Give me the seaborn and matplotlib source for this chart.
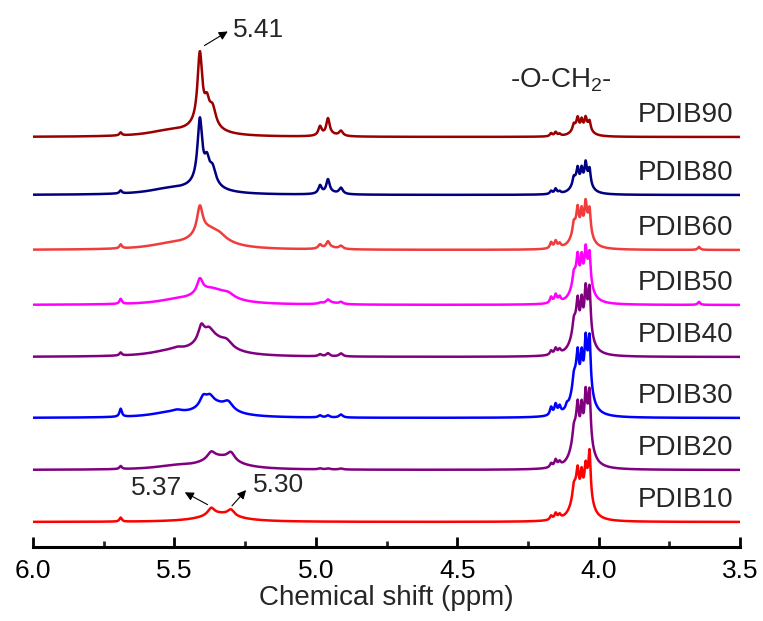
import numpy as np
import pandas as pd
import matplotlib
matplotlib.use("Agg")
import matplotlib.pyplot as plt
import matplotlib.ticker as mtick
import seaborn as sns

# ─── DATA ─────────────────────────────────────────────────────────────────────
# each spectrum = list of peaks (shift in ppm, height, half width in ppm)
samples = ["PDIB90", "PDIB80", "PDIB60", "PDIB50", "PDIB40", "PDIB30", "PDIB20", "PDIB10"]
baselines = [410, 352, 297, 242, 190, 129, 77, 25]

PDIB90 = [(5.690, 3, 0.005), (5.520, 5, 0.090),
          (5.410, 70, 0.010), (5.385, 18, 0.010), (5.365, 18, 0.014), (5.400, 10, 0.060),
          (4.985, 9, 0.007), (4.957, 16, 0.007), (4.911, 5, 0.008), (4.950, 2, 0.030),
          (4.168, 3, 0.005), (4.152, 4, 0.005), (4.138, 2, 0.005),
          (4.080, 8, 0.018), (4.040, 8, 0.018),
          (4.088, 5, 0.0045), (4.074, 10, 0.0045), (4.060, 10, 0.0045), (4.046, 10, 0.0045), (4.032, 8, 0.0045)]

PDIB80 = [(5.690, 3, 0.005), (5.520, 5, 0.090),
          (5.410, 62, 0.010), (5.385, 18, 0.010), (5.365, 16, 0.014), (5.400, 10, 0.060),
          (4.985, 8, 0.007), (4.957, 13, 0.007), (4.911, 6, 0.008), (4.950, 2, 0.030),
          (4.168, 3, 0.005), (4.152, 5, 0.005), (4.138, 2, 0.005),
          (4.080, 12, 0.018), (4.040, 12, 0.018),
          (4.088, 6, 0.0045), (4.074, 13, 0.0045), (4.060, 15, 0.0045), (4.046, 18, 0.0045), (4.032, 14, 0.0045)]

PDIB60 = [(5.690, 4, 0.005), (5.520, 4, 0.090),
          (5.410, 27, 0.012), (5.380, 19, 0.065), (5.340, 3, 0.025),
          (4.985, 4, 0.007), (4.957, 6, 0.007), (4.911, 3, 0.008), (4.950, 2, 0.030),
          (4.168, 6, 0.005), (4.152, 7, 0.005), (4.138, 4, 0.005),
          (4.080, 20, 0.018), (4.040, 20, 0.018),
          (4.088, 8, 0.0045), (4.074, 19, 0.0045), (4.060, 21, 0.0045), (4.046, 24, 0.0045), (4.032, 21, 0.0045),
          (3.645, 3, 0.005)]

PDIB50 = [(5.690, 5, 0.005), (5.500, 3, 0.080),
          (5.410, 14, 0.012), (5.370, 15, 0.070), (5.310, 4, 0.025),
          (4.985, 1, 0.007), (4.957, 3, 0.007), (4.911, 2, 0.008), (4.950, 2, 0.030),
          (4.168, 6, 0.005), (4.152, 8, 0.005), (4.138, 5, 0.005),
          (4.080, 25, 0.018), (4.040, 25, 0.018),
          (4.088, 8, 0.0045), (4.074, 21, 0.0045), (4.060, 25, 0.0045), (4.046, 27, 0.0045), (4.032, 27, 0.0045),
          (3.645, 3, 0.005)]

PDIB40 = [(5.690, 3, 0.005), (5.520, 4, 0.080), (5.490, 2, 0.020),
          (5.405, 15, 0.013), (5.378, 7, 0.016), (5.370, 19, 0.065), (5.315, 6, 0.022),
          (4.985, 2, 0.007), (4.957, 3, 0.007), (4.911, 3, 0.008),
          (4.168, 4, 0.005), (4.152, 6, 0.005), (4.138, 4, 0.005),
          (4.080, 30, 0.018), (4.040, 30, 0.018),
          (4.088, 8, 0.0045), (4.074, 23, 0.0045), (4.060, 29, 0.0045), (4.046, 33, 0.0045), (4.032, 39, 0.0045)]

PDIB30 = [(5.690, 8, 0.005), (5.520, 4, 0.080), (5.490, 2, 0.020),
          (5.398, 10, 0.015), (5.375, 7, 0.015), (5.360, 13, 0.065), (5.310, 8, 0.020),
          (4.985, 2, 0.007), (4.957, 2, 0.007), (4.911, 3, 0.008),
          (4.168, 8, 0.005), (4.152, 10, 0.005), (4.138, 7, 0.005), (4.112, 4, 0.005),
          (4.080, 36, 0.018), (4.040, 36, 0.018),
          (4.088, 8, 0.0045), (4.074, 25, 0.0045), (4.060, 31, 0.0045), (4.046, 37, 0.0045), (4.032, 45, 0.0045)]

PDIB20 = [(5.690, 3, 0.005), (5.500, 3, 0.080),
          (5.370, 7, 0.016), (5.300, 8, 0.016), (5.340, 12, 0.075),
          (4.985, 1, 0.007), (4.957, 1, 0.007), (4.911, 1, 0.008),
          (4.168, 4, 0.005), (4.152, 7, 0.005), (4.138, 4, 0.005),
          (4.080, 36, 0.018), (4.040, 36, 0.018),
          (4.088, 8, 0.0045), (4.074, 25, 0.0045), (4.060, 31, 0.0045), (4.046, 35, 0.0045), (4.032, 43, 0.0045)]

PDIB10 = [(5.690, 4, 0.005),
          (5.370, 7, 0.014), (5.300, 6, 0.014), (5.340, 8, 0.080),
          (4.168, 4, 0.005), (4.152, 6, 0.005), (4.138, 4, 0.005),
          (4.080, 30, 0.018), (4.040, 30, 0.018),
          (4.088, 8, 0.0045), (4.074, 19, 0.0045), (4.060, 23, 0.0045), (4.046, 21, 0.0045), (4.032, 41, 0.0045)]

peak_tables = [PDIB90, PDIB80, PDIB60, PDIB50, PDIB40, PDIB30, PDIB20, PDIB10]
line_colors = ["#9A0000", "#000080", "#F03C3C", "#FF00FF",
               "#800080", "#0000FF", "#800080", "#FF0000"]

# ─── STYLE ────────────────────────────────────────────────────────────────────
sns.set_theme(style="white")
plt.rcParams["font.family"] = ["Liberation Sans", "DejaVu Sans"]
plt.rcParams["mathtext.default"] = "regular"

# ─── BUILD SPECTRA (Lorentzian line shapes from the peak tables) ─────────────
ppm = np.linspace(6.0, 3.5, 5001)
frames = []
for name, base, peaks in zip(samples, baselines, peak_tables):
    y = np.full_like(ppm, float(base))
    for c, h, w in peaks:
        y += h / (1 + ((ppm - c) / w) ** 2)
    frames.append(pd.DataFrame({"ppm": ppm, "intensity": y, "sample": name}))
df = pd.concat(frames, ignore_index=True)

# ─── PLOT ─────────────────────────────────────────────────────────────────────
fig = plt.figure(figsize=(7.63, 6.21), dpi=100)
ax = fig.add_axes([0.04325, 0.1192, 0.92661, 0.8808])

sns.lineplot(data=df, x="ppm", y="intensity", hue="sample", hue_order=samples,
             palette=dict(zip(samples, line_colors)), estimator=None, sort=False,
             legend=False, linewidth=1.8, ax=ax)

ax.set_xlim(6.0, 3.5)
ax.set_ylim(0, 547)
ax.set_yticks([])
ax.set_ylabel("")
for s in ["left", "top", "right"]:
    ax.spines[s].set_visible(False)
ax.spines["bottom"].set_linewidth(2.2)
ax.spines["bottom"].set_color("black")

ax.xaxis.set_major_locator(mtick.MultipleLocator(0.5))
ax.xaxis.set_minor_locator(mtick.MultipleLocator(0.25))
ax.xaxis.set_major_formatter(mtick.FormatStrFormatter("%.1f"))
ax.tick_params(axis="x", which="major", direction="in", length=7.5, width=2,
               labelsize=19, pad=9, bottom=True, colors="black")
ax.tick_params(axis="x", which="minor", direction="in", length=4.5, width=2, bottom=True)
ax.set_xlabel("Chemical shift (ppm)", fontsize=20, labelpad=1)

# sample labels at the right
for name, base in zip(samples, baselines):
    ax.text(3.525, base + 22, name, ha="right", va="center", fontsize=20)

# peak annotations
arrow = dict(arrowstyle="-|>", color="black", lw=0.8, mutation_scale=13)
ax.annotate("", xy=(5.303, 517), xytext=(5.402, 500), arrowprops=arrow)
ax.text(5.293, 517, "5.41", ha="left", va="center", fontsize=19)
ax.annotate("", xy=(5.472, 56), xytext=(5.374, 41), arrowprops=arrow)
ax.text(5.474, 59, "5.37", ha="right", va="center", fontsize=19)
ax.annotate("", xy=(5.240, 59), xytext=(5.303, 39), arrowprops=arrow)
ax.text(5.222, 62, "5.30", ha="left", va="center", fontsize=19)
ax.text(4.133, 459, "-O-CH$_2$-", ha="center", va="baseline", fontsize=20)

fig.savefig("out.png", dpi=100)
plt.close(fig)
